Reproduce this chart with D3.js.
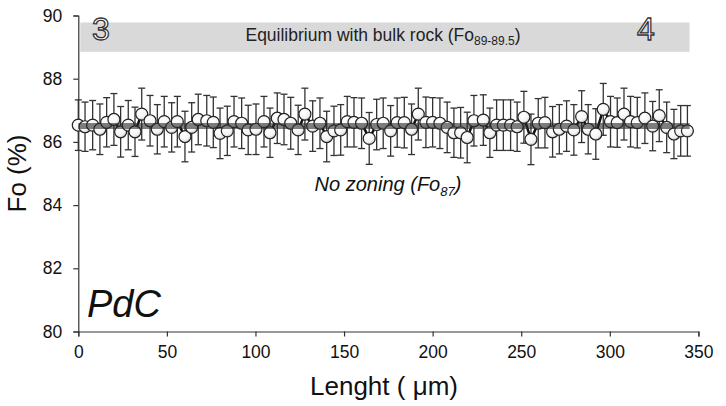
<!DOCTYPE html>
<html>
<head>
<meta charset="utf-8">
<script src="https://cdn.jsdelivr.net/npm/d3@7"></script>
<style>
  html, body { margin: 0; padding: 0; background: #fff; }
  svg { display: block; font-family: "Liberation Sans", Arial, sans-serif; }
</style>
</head>
<body>
<svg id="chart" width="726" height="406"></svg>
<script>
// Olivine Fo profile along the traverse (distance in µm, Fo in %)
const lengthUm = [0, 3.8, 8.1, 12.2, 16.0, 20.1, 23.9, 28.2, 32.0, 35.8, 40.5, 44.6, 48.5, 52.7, 55.9,
  60.2, 64.0, 67.7, 72.5, 76.2, 80.0, 84.1, 87.9, 92.2, 95.9, 100.3, 104.8, 108.2, 112.3, 116.1,
  119.9, 124.1, 127.9, 132.3, 136.4, 140.2, 144.3, 148.1, 151.8, 155.6, 159.9, 164.2, 168.4, 172.1,
  176.3, 180.0, 184.0, 188.1, 191.9, 196.2, 200.0, 204.1, 208.2, 212.0, 215.8, 219.5, 223.3, 228.6,
  232.3, 236.1, 239.9, 244.0, 247.7, 251.5, 255.5, 259.6, 263.4, 267.7, 271.5, 275.6, 279.7, 284.1,
  287.8, 292.1, 296.3, 300.4, 304.2, 308.0, 311.7, 315.5, 319.8, 324.2, 327.9, 332.1, 336.2, 340.0, 343.8];
const foValues = [86.53, 86.48, 86.53, 86.40, 86.62, 86.71, 86.32, 86.53, 86.32, 86.88, 86.67, 86.40, 86.64, 86.46, 86.64,
  86.17, 86.46, 86.71, 86.67, 86.62, 86.27, 86.35, 86.64, 86.59, 86.38, 86.40, 86.64, 86.29, 86.75, 86.71,
  86.59, 86.38, 86.88, 86.50, 86.59, 86.17, 86.35, 86.38, 86.64, 86.62, 86.59, 86.11, 86.55, 86.59,
  86.35, 86.61, 86.61, 86.40, 86.88, 86.62, 86.62, 86.59, 86.46, 86.29, 86.29, 86.14, 86.67, 86.69,
  86.29, 86.53, 86.53, 86.53, 86.48, 86.78, 86.08, 86.59, 86.61, 86.32, 86.40, 86.50, 86.38, 86.80,
  86.40, 86.25, 87.03, 86.64, 86.61, 86.88, 86.64, 86.61, 86.75, 86.50, 86.83, 86.46, 86.25, 86.35, 86.35];
const foErrors = [0.80, 0.78, 0.78, 0.80, 0.78, 0.82, 0.80, 0.78, 0.78, 0.82, 0.80, 0.78, 0.80, 0.78, 0.80,
  0.80, 0.78, 0.80, 0.80, 0.80, 0.80, 0.78, 0.80, 0.80, 0.78, 0.80, 0.80, 0.78, 0.80, 0.80,
  0.82, 0.78, 0.82, 0.80, 0.80, 0.80, 0.78, 0.80, 0.80, 0.78, 0.80, 0.82, 0.80, 0.80,
  0.80, 0.78, 0.80, 0.80, 0.82, 0.80, 0.78, 0.80, 0.80, 0.78, 0.80, 0.80, 0.80, 0.80,
  0.78, 0.80, 0.80, 0.80, 0.78, 0.82, 0.80, 0.78, 0.80, 0.80, 0.78, 0.80, 0.80, 0.82,
  0.78, 0.80, 0.82, 0.80, 0.78, 0.82, 0.80, 0.80, 0.80, 0.78, 0.82, 0.80, 0.78, 0.80, 0.80];

const xTicks = [0, 50, 100, 150, 200, 250, 300, 350];
const yTicks = [80, 82, 84, 86, 88, 90];
const meanFo = 86.5;
const bulkBand = [88.85, 89.78];   // equilibrium field drawn as a grey band
const bandExtent = [0, 345];

const svg = d3.select("#chart");
const x = d3.scaleLinear().domain([0, 350]).range([78.3, 698.4]);
const y = d3.scaleLinear().domain([80, 90]).range([331.5, 15.5]);

const defs = svg.append("defs");
const grad = defs.append("radialGradient").attr("id", "ball")
  .attr("cx", "0.4").attr("cy", "0.35").attr("r", "0.7");
grad.append("stop").attr("offset", "0%").attr("stop-color", "#ffffff");
grad.append("stop").attr("offset", "65%").attr("stop-color", "#f4f4f4");
grad.append("stop").attr("offset", "100%").attr("stop-color", "#b8b8b8");

// equilibrium band
svg.append("rect")
  .attr("x", x(bandExtent[0]) + 2)
  .attr("y", y(bulkBand[1]))
  .attr("width", x(bandExtent[1]) - x(bandExtent[0]) - 2)
  .attr("height", y(bulkBand[0]) - y(bulkBand[1]))
  .attr("fill", "#d9d9d9");

const bandText = svg.append("text")
  .attr("x", 383).attr("y", 41)
  .attr("text-anchor", "middle")
  .attr("font-size", 17.5).attr("fill", "#222");
bandText.append("tspan").text("Equilibrium with bulk rock (Fo");
bandText.append("tspan").attr("font-size", 12).attr("dy", 4).text("89-89.5");
bandText.append("tspan").attr("dy", -4).text(")");

// outlined section markers
svg.selectAll("text.marker").data([{t: "3", px: 101}, {t: "4", px: 646}])
  .join("text").attr("class", "marker")
  .attr("x", d => d.px).attr("y", 40)
  .attr("text-anchor", "middle")
  .attr("font-size", 32)
  .attr("fill", "#fff").attr("stroke", "#333").attr("stroke-width", 1.3)
  .text(d => d.t);

// axes
const xAxis = d3.axisBottom(x).tickValues(xTicks).tickSize(5).tickPadding(9);
const gx = svg.append("g").attr("transform", `translate(0,${y(80)})`).call(xAxis);
gx.select(".domain").attr("stroke", "#333").attr("stroke-width", 1.2);
gx.selectAll(".tick line").attr("stroke", "#333").attr("stroke-width", 1.2);
gx.selectAll(".tick text").attr("font-size", 17.5).attr("fill", "#111")
  .attr("font-family", "Liberation Sans, Arial, sans-serif");

const yAxis = d3.axisLeft(y).tickValues(yTicks).tickSize(5).tickPadding(11);
const gy = svg.append("g").attr("transform", `translate(${x(0)},0)`).call(yAxis);
gy.select(".domain").attr("stroke", "#333").attr("stroke-width", 1.2);
gy.selectAll(".tick line").attr("stroke", "#333").attr("stroke-width", 1.2);
gy.selectAll(".tick text").attr("font-size", 17.5).attr("fill", "#111")
  .attr("font-family", "Liberation Sans, Arial, sans-serif");

// axis titles
svg.append("text")
  .attr("transform", `translate(26,${y(85)}) rotate(-90)`)
  .attr("text-anchor", "middle").attr("font-size", 26).attr("fill", "#111")
  .text("Fo (%)");
svg.append("text")
  .attr("x", 384).attr("y", 395)
  .attr("text-anchor", "middle").attr("font-size", 26).attr("fill", "#111")
  .text("Lenght ( μm)");

// sample name
svg.append("text")
  .attr("x", 87).attr("y", 317)
  .attr("font-size", 38).attr("font-style", "italic").attr("fill", "#111")
  .text("PdC");

// zoning note
const note = svg.append("text")
  .attr("x", 388).attr("y", 191)
  .attr("text-anchor", "middle").attr("font-size", 20)
  .attr("font-style", "italic").attr("fill", "#111");
note.append("tspan").text("No zoning (Fo");
note.append("tspan").attr("font-size", 13).attr("dy", 5).text("87");
note.append("tspan").attr("dy", -5).text(")");

const pts = lengthUm.map((d, i) => ({x: d, v: foValues[i], e: foErrors[i]}));

// error bars
const eb = svg.append("g").attr("stroke", "#333").attr("stroke-width", 1.3);
eb.selectAll("line.v").data(pts).join("line").attr("class", "v")
  .attr("x1", d => x(d.x)).attr("x2", d => x(d.x))
  .attr("y1", d => y(d.v + d.e)).attr("y2", d => y(d.v - d.e));
eb.selectAll("line.t").data(pts).join("line").attr("class", "t")
  .attr("x1", d => x(d.x) - 3.5).attr("x2", d => x(d.x) + 3.5)
  .attr("y1", d => y(d.v + d.e)).attr("y2", d => y(d.v + d.e));
eb.selectAll("line.b").data(pts).join("line").attr("class", "b")
  .attr("x1", d => x(d.x) - 3.5).attr("x2", d => x(d.x) + 3.5)
  .attr("y1", d => y(d.v - d.e)).attr("y2", d => y(d.v - d.e));

// profile line
svg.append("path").datum(pts)
  .attr("fill", "none").attr("stroke", "#111").attr("stroke-width", 2.5)
  .attr("d", d3.line().x(d => x(d.x)).y(d => y(d.v)));

// analysis points
svg.selectAll("circle.pt").data(pts).join("circle").attr("class", "pt")
  .attr("cx", d => x(d.x)).attr("cy", d => y(d.v)).attr("r", 6)
  .attr("fill", "url(#ball)").attr("stroke", "#222").attr("stroke-width", 1.2);

// mean composition line
svg.append("line")
  .attr("x1", x(0)).attr("x2", x(bandExtent[1]))
  .attr("y1", y(meanFo)).attr("y2", y(meanFo))
  .attr("stroke", "#2a2a2a").attr("stroke-opacity", 0.6).attr("stroke-width", 6);
</script>
</body>
</html>
